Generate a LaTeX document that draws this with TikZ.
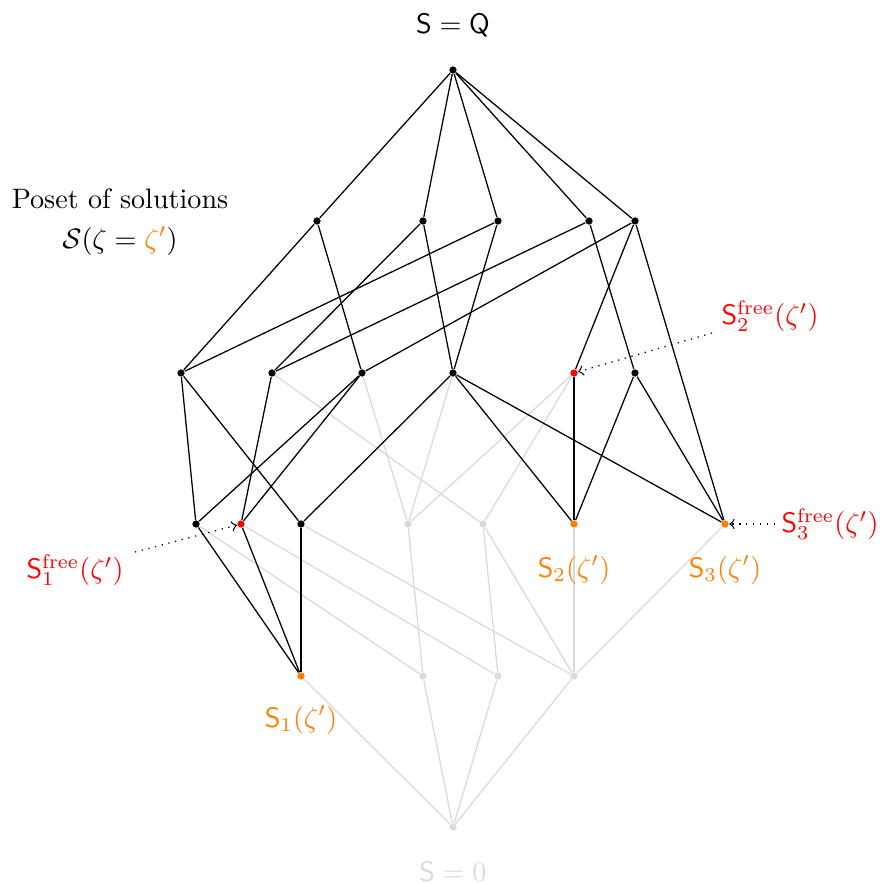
\documentclass[tikz,border=0pt]{standalone}
\usepackage{amsmath}
\definecolor{lgray}{RGB}{218,218,218}
\definecolor{orng}{RGB}{255,128,0}
\begin{document}
\begin{tikzpicture}[x=0.0125cm,y=-0.0125cm,
  dot/.style={circle,fill=black,inner sep=0pt,minimum size=2.6pt},
  gdot/.style={dot,fill=lgray},
  rdot/.style={dot,fill=red},
  odot/.style={dot,fill=orng},
  bl/.style={black,line width=0.45pt},
  gl/.style={lgray,line width=0.45pt},
  ptr/.style={dotted,->,line width=0.45pt},
  lbl/.style={inner sep=0pt}]
\useasboundingbox (0,0) rectangle (880,884);
% nodes
\node[dot] (T) at (453,70) {};
\node[dot] (A1) at (317,221) {};
\node[dot] (A2) at (423,221) {};
\node[dot] (A3) at (498,221) {};
\node[dot] (A4) at (589,221) {};
\node[dot] (A5) at (635,221) {};
\node[dot] (B1) at (181,373) {};
\node[dot] (B2) at (272,373) {};
\node[dot] (B3) at (362,373) {};
\node[dot] (B4) at (453,373) {};
\node[rdot] (B5) at (574,373) {};
\node[dot] (B6) at (635,373) {};
\node[dot] (C1) at (196,524) {};
\node[rdot] (C2) at (241,524) {};
\node[dot] (C3) at (301,524) {};
\node[gdot] (C4) at (408,524) {};
\node[gdot] (C5) at (483,524) {};
\node[odot] (C6) at (574,524) {};
\node[odot] (C7) at (725,524) {};
\node[odot] (D1) at (301,676) {};
\node[gdot] (D2) at (423,676) {};
\node[gdot] (D3) at (498,676) {};
\node[gdot] (D4) at (574,676) {};
\node[gdot] (E) at (453,827) {};
% gray edges
\foreach \a/\b in {B2/C5,B3/C4,B4/C4,B5/C4,B5/C5,C1/D2,C2/D3,C3/D4,C4/D2,C5/D3,C5/D4,C6/D4,C7/D4,D1/E,D2/E,D3/E,D4/E}
  \draw[gl] (\a) -- (\b);
% black edges
\foreach \a/\b in {T/A1,T/A2,T/A3,T/A4,T/A5,A1/B1,A1/B3,A2/B2,A2/B4,A3/B1,A3/B4,A4/B2,A4/B6,A5/B3,A5/B5,A5/C7,B1/C1,B1/C3,B2/C2,B3/C1,B3/C2,B4/C3,B4/C6,B4/C7,B5/C6,B6/C6,B6/C7,C1/D1,C2/D1,C3/D1}
  \draw[bl] (\a) -- (\b);
% labels
\node[lbl] (top) at (453,25) {$\mathsf{S}=\mathsf{Q}$};
\node[lbl] (bot) at (453,872) {\color{lgray}$\mathsf{S}=0$};
\node[lbl,align=center] (poset) at (120,222) {Poset of solutions\\[2pt] $\mathcal{S}(\zeta=\textcolor{orng}{\zeta'})$};
\node[lbl,text=orng] (s1) at (301,720) {$\mathsf{S}_1(\zeta')$};
\node[lbl,text=orng] (s2) at (574,570) {$\mathsf{S}_2(\zeta')$};
\node[lbl,text=orng] (s3) at (725,570) {$\mathsf{S}_3(\zeta')$};
\node[lbl,text=red] (f1) at (75,570) {$\mathsf{S}_1^{\mathrm{free}}(\zeta')$};
\node[lbl,text=red] (f2) at (770,316) {$\mathsf{S}_2^{\mathrm{free}}(\zeta')$};
\node[lbl,text=red] (f3) at (830,524) {$\mathsf{S}_3^{\mathrm{free}}(\zeta')$};
% pointers
\coordinate (f1s) at (135,552);
\coordinate (f2s) at (712,333);
\coordinate (f3s) at (775,524);
\draw[ptr] (f1s) -- (C2);
\draw[ptr] (f2s) -- (B5);
\draw[ptr] (f3s) -- (C7);
\end{tikzpicture}
\end{document}
